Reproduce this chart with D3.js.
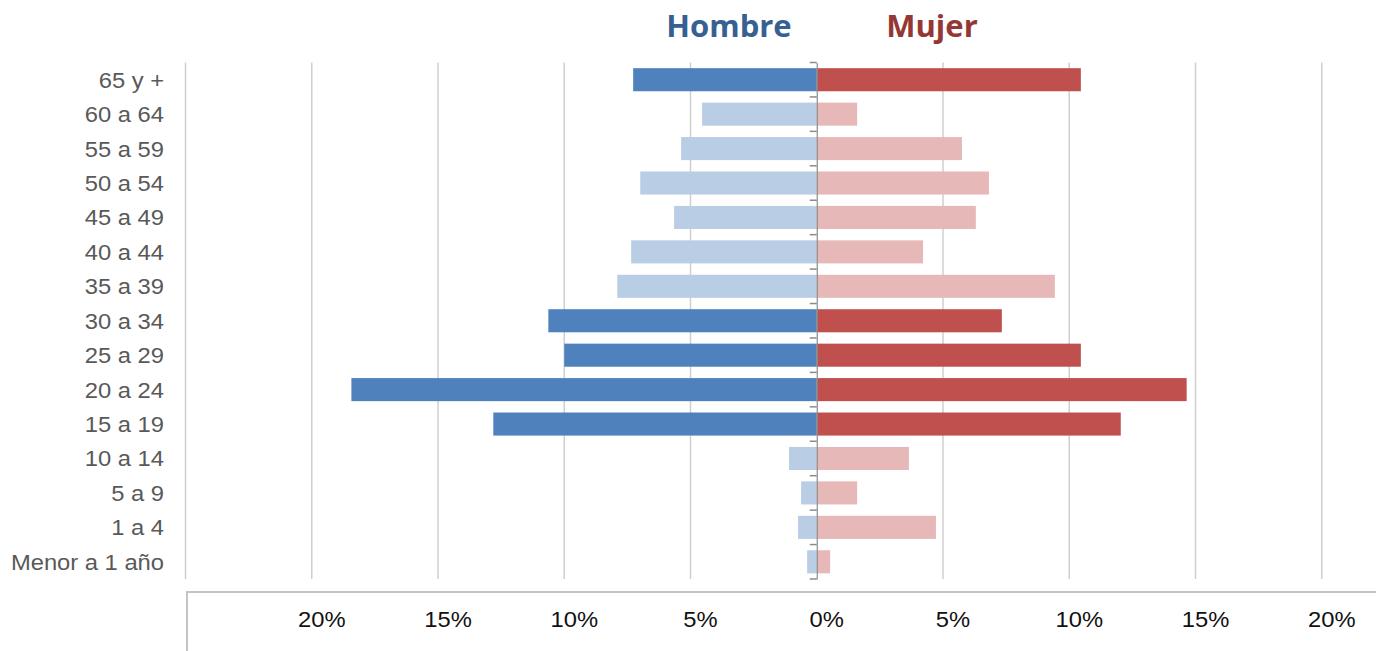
<!DOCTYPE html>
<html>
<head>
<meta charset="utf-8">
<script src="https://cdn.jsdelivr.net/npm/d3@7"></script>
<style>
  body { margin: 0; background: #fff; }
  svg { display: block; }
</style>
</head>
<body>
<div id="chart"></div>
<script>
// age groups, top to bottom
var ageGroups = ["65 y +", "60 a 64", "55 a 59", "50 a 54", "45 a 49", "40 a 44", "35 a 39",
                 "30 a 34", "25 a 29", "20 a 24", "15 a 19", "10 a 14", "5 a 9", "1 a 4", "Menor a 1 año"];
// percentages
var hombre = [7.27, 4.54, 5.37, 6.99, 5.65, 7.35, 7.90, 10.63, 10.0, 18.43, 12.81, 1.10, 0.62, 0.74, 0.38];
var mujer  = [10.46, 1.60, 5.75, 6.82, 6.30, 4.21, 9.43, 7.33, 10.46, 14.65, 12.04, 3.65, 1.60, 4.72, 0.53];
// groups drawn in the strong colour
var highlighted = ["65 y +", "30 a 34", "25 a 29", "20 a 24", "15 a 19"];
var gridValues = [-25, -20, -15, -10, -5, 5, 10, 15, 20, 25];
var tickValues = [-20, -15, -10, -5, 0, 5, 10, 15, 20];

var width = 1376, height = 651;
var stretch = 1.08; // text in the original looks a bit wide

var svg = d3.select("#chart")
    .append("svg")
    .attr("width", width)
    .attr("height", height);

// 0% sits at 817, 5% is about 126px
var x = d3.scaleLinear()
    .domain([-25, 25])
    .range([185.5, 1448]);

var y = d3.scaleBand()
    .domain(ageGroups)
    .range([62.5, 579])
    .paddingInner(0.33)
    .paddingOuter(0.165);

var yOuter = d3.scaleBand()
    .domain(ageGroups)
    .range([62.5, 579]);

// gridlines
svg.append("g")
    .selectAll("line")
    .data(gridValues)
    .enter()
    .append("line")
    .attr("x1", d => x(d))
    .attr("x2", d => x(d))
    .attr("y1", 62.5)
    .attr("y2", 579)
    .attr("stroke", "#cfcfcf")
    .attr("stroke-width", 1.5);

var rows = ageGroups.map(function(g, i){
    return {group: g, h: hombre[i], m: mujer[i], strong: highlighted.indexOf(g) >= 0};
});

// hombre bars (left)
svg.append("g")
    .selectAll("rect")
    .data(rows)
    .enter()
    .append("rect")
    .attr("x", d => x(-d.h))
    .attr("y", d => y(d.group))
    .attr("width", d => x(0) - x(-d.h))
    .attr("height", y.bandwidth())
    .attr("fill", d => d.strong ? "#4f81bd" : "#b9cde5");

// mujer bars (right)
svg.append("g")
    .selectAll("rect")
    .data(rows)
    .enter()
    .append("rect")
    .attr("x", x(0))
    .attr("y", d => y(d.group))
    .attr("width", d => x(d.m) - x(0))
    .attr("height", y.bandwidth())
    .attr("fill", d => d.strong ? "#c0504d" : "#e6b9b8");

// center axis with ticks on the left
var axis = svg.append("g")
    .attr("transform", "translate(" + x(0) + ",0)")
    .call(d3.axisLeft(yOuter).tickSize(0).tickFormat(""));
axis.select(".domain").attr("stroke", "#8c8c8c").attr("stroke-width", 1.2);
var boundaries = ageGroups.map(g => yOuter(g)).concat([579]);
axis.selectAll(".bound")
    .data(boundaries)
    .enter()
    .append("line")
    .attr("class", "bound")
    .attr("x1", -7).attr("x2", 0)
    .attr("y1", d => d).attr("y2", d => d)
    .attr("stroke", "#8c8c8c")
    .attr("stroke-width", 1.5);

// category labels
svg.append("g")
    .selectAll("text")
    .data(ageGroups)
    .enter()
    .append("text")
    .attr("transform", d => "translate(164," + (yOuter(d) + yOuter.bandwidth() / 2) + ") scale(" + stretch + ",1)")
    .attr("dy", "0.36em")
    .attr("text-anchor", "end")
    .style("font-family", "'Liberation Sans', Arial, sans-serif")
    .style("font-size", "22px")
    .style("fill", "#595959")
    .text(d => d);

// bottom axis box
svg.append("path")
    .attr("d", "M187,651 V592 H1376")
    .attr("fill", "none")
    .attr("stroke", "#c4c4c4")
    .attr("stroke-width", 2);

svg.append("g")
    .selectAll("text")
    .data(tickValues)
    .enter()
    .append("text")
    .attr("transform", d => "translate(" + (x(d) + 10) + ",627) scale(" + stretch + ",1)")
    .attr("text-anchor", "middle")
    .style("font-family", "'Liberation Sans', Arial, sans-serif")
    .style("font-size", "22px")
    .style("fill", "#111")
    .text(d => Math.abs(d) + "%");

// titles
svg.append("text")
    .attr("x", 729).attr("y", 37)
    .attr("text-anchor", "middle")
    .style("font-family", "'Open Sans', sans-serif")
    .style("font-weight", "bold")
    .style("font-size", "31px")
    .style("fill", "#376092")
    .text("Hombre");

svg.append("text")
    .attr("x", 932).attr("y", 37)
    .attr("text-anchor", "middle")
    .style("font-family", "'Open Sans', sans-serif")
    .style("font-weight", "bold")
    .style("font-size", "31px")
    .style("fill", "#953735")
    .text("Mujer");
</script>
</body>
</html>
